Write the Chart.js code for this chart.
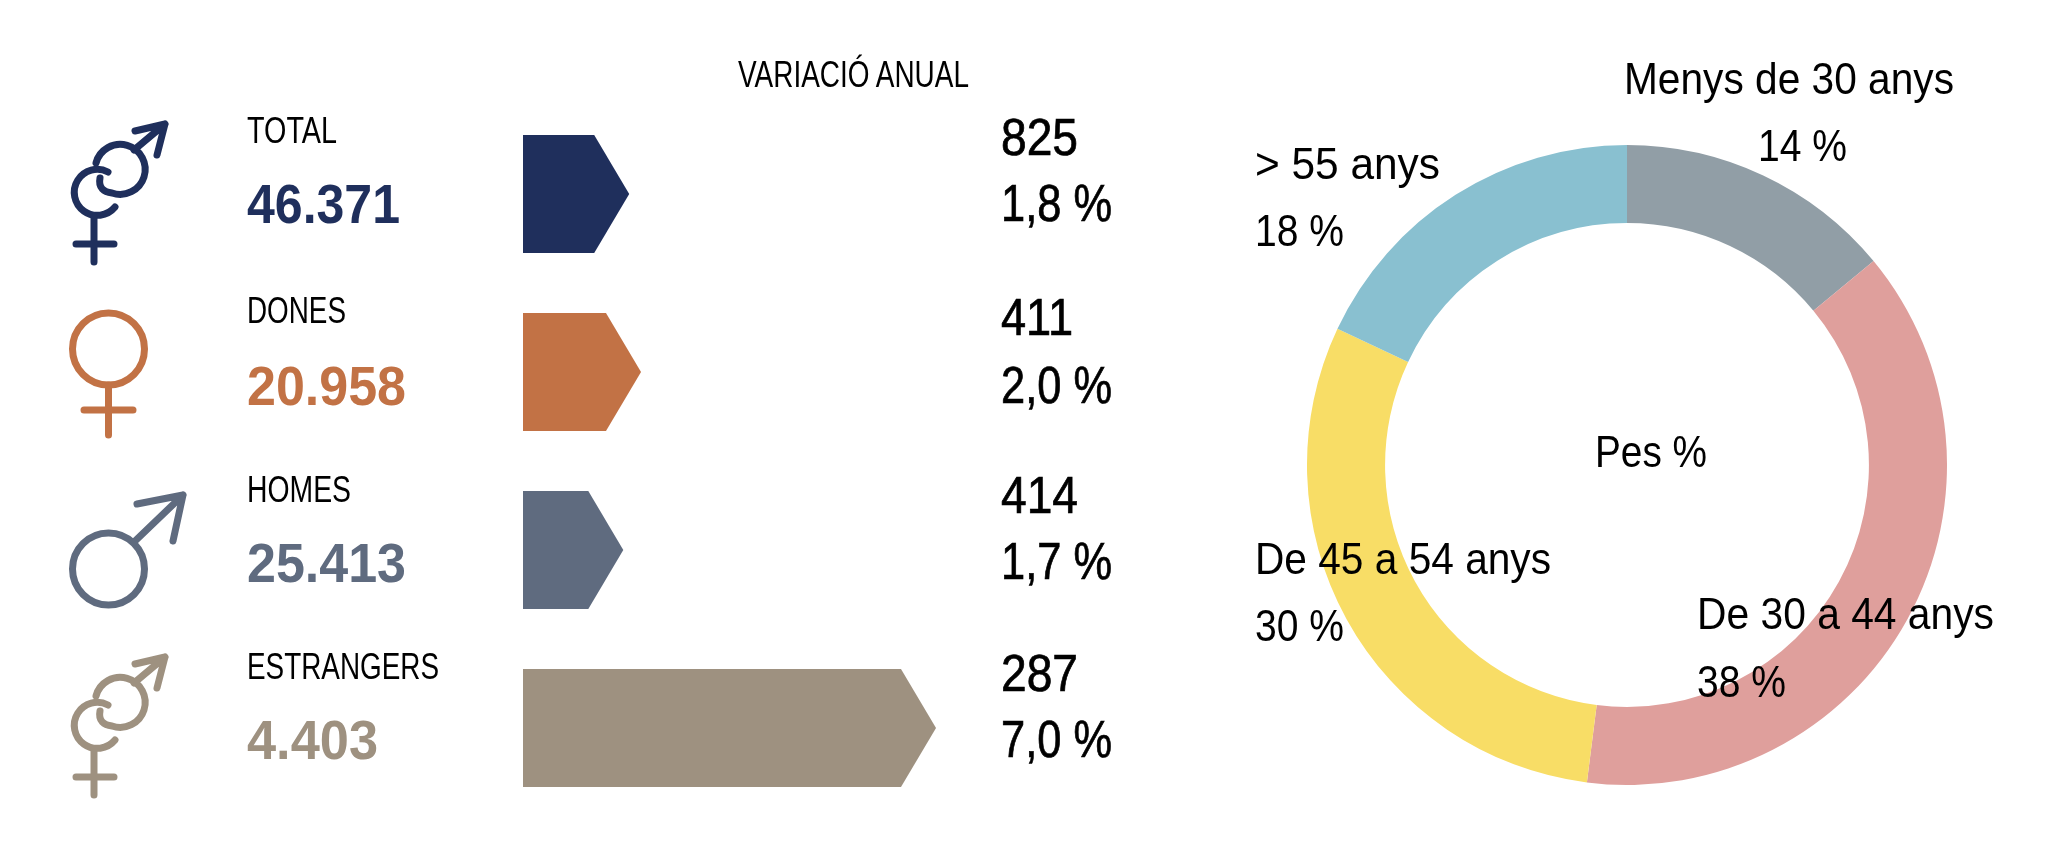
<!DOCTYPE html>
<html lang="ca">
<head>
<meta charset="UTF-8">
<title>Variació anual</title>
<script src="https://cdn.jsdelivr.net/npm/chart.js"></script>
<style>
    html, body { margin: 0; padding: 0; background: #fff; }
    .page { position: relative; width: 2067px; height: 850px; overflow: hidden; }
    #barWrap { position: absolute; left: 523px; top: 105px; width: 413px; height: 712px; }
    #pieWrap { position: absolute; left: 1307px; top: 145px; width: 640px; height: 640px; }
    #overlay { position: absolute; left: 0; top: 0; }
    #overlay text { font-family: "Liberation Sans Narrow", "Liberation Sans", sans-serif; fill: #000; }
    .icon { fill: none; stroke-width: 7; stroke-linecap: round; stroke-linejoin: round; }
</style>
</head>
<body>
<div class="page">
    <div id="barWrap"><canvas id="barChart"></canvas></div>
    <div id="pieWrap"><canvas id="pieChart"></canvas></div>
    <svg id="overlay" width="2067" height="850" xmlns="http://www.w3.org/2000/svg"></svg>
</div>
<script>
// data
const categories = ['TOTAL', 'DONES', 'HOMES', 'ESTRANGERS'];
const totals = ['46.371', '20.958', '25.413', '4.403'];
const changeAbs = ['825', '411', '414', '287'];
const changePct = [1.8, 2.0, 1.7, 7.0];
const ageGroups = ['Menys de 30 anys', 'De 30 a 44 anys', 'De 45 a 54 anys', '> 55 anys'];
const ageShares = [14, 38, 30, 18];

const rowColors = ['#1f2f5c', '#c27245', '#5f6b7f', '#9e9180'];
const ageColors = ['#919ea6', '#df9f9c', '#f8dd66', '#89c0d0'];

Chart.defaults.animation = false;

// bars get an arrow point instead of the plain rectangle
const arrowBars = {
    id: 'arrowBars',
    beforeDatasetDraw(chart, args) {
        const ctx = chart.ctx;
        args.meta.data.forEach(function (bar) {
            const top = bar.y - bar.height / 2;
            const bottom = bar.y + bar.height / 2;
            ctx.save();
            ctx.fillStyle = bar.options.backgroundColor;
            ctx.beginPath();
            ctx.moveTo(bar.base, top);
            ctx.lineTo(bar.x - 35, top);
            ctx.lineTo(bar.x, bar.y);
            ctx.lineTo(bar.x - 35, bottom);
            ctx.lineTo(bar.base, bottom);
            ctx.closePath();
            ctx.fill();
            ctx.restore();
        });
        return false;
    }
};

new Chart(document.getElementById('barChart'), {
    type: 'bar',
    data: {
        labels: categories,
        datasets: [{ data: changePct, backgroundColor: rowColors, barThickness: 118 }]
    },
    options: {
        indexAxis: 'y',
        responsive: true,
        maintainAspectRatio: false,
        events: [],
        scales: {
            x: { display: false, min: 0, max: 7 },
            y: { display: false }
        },
        plugins: { legend: { display: false }, tooltip: { enabled: false } }
    },
    plugins: [arrowBars]
});

new Chart(document.getElementById('pieChart'), {
    type: 'doughnut',
    data: {
        labels: ageGroups,
        datasets: [{ data: ageShares, backgroundColor: ageColors, borderWidth: 0 }]
    },
    options: {
        responsive: true,
        maintainAspectRatio: false,
        cutout: '75.6%',
        events: [],
        plugins: { legend: { display: false }, tooltip: { enabled: false } }
    }
});

// text and icons on top
const svg = document.getElementById('overlay');
const NS = 'http://www.w3.org/2000/svg';

function addText(str, x, y, size, width, opts) {
    opts = opts || {};
    const t = document.createElementNS(NS, 'text');
    t.setAttribute('x', x);
    t.setAttribute('y', y);
    t.setAttribute('font-size', size);
    t.setAttribute('textLength', width);
    t.setAttribute('lengthAdjust', 'spacingAndGlyphs');
    if (opts.bold) t.setAttribute('font-weight', 'bold');
    if (opts.color) t.style.fill = opts.color;
    if (opts.stroke) {
        t.style.stroke = '#000';
        t.style.strokeWidth = opts.stroke;
    }
    t.textContent = str;
    svg.appendChild(t);
}

function pct(v) {
    return v.toFixed(1).replace('.', ',') + ' %';
}

const nameBase = [143, 323, 502, 679];
const nameWidth = [90, 99, 104, 192];
const totalBase = [223, 405, 582, 759];
const totalWidth = [153, 159, 159, 131];
const absBase = [155, 335, 513, 691];
const absWidth = [77, 72, 77, 77];
const pctBase = [221, 403, 579, 757];

addText('VARIACIÓ ANUAL', 738, 87, 36, 231);
categories.forEach(function (name, i) {
    addText(name, 247, nameBase[i], 36, nameWidth[i]);
    addText(totals[i], 247, totalBase[i], 56, totalWidth[i], { bold: true, color: rowColors[i] });
    addText(changeAbs[i], 1001, absBase[i], 51, absWidth[i], { stroke: 0.7 });
    addText(pct(changePct[i]), 1001, pctBase[i], 51, 111, { stroke: 0.7 });
});

const ageLabelX = [1624, 1697, 1255, 1255];
const ageLabelWidth = [330, 297, 296, 185];
const ageNameBase = [94, 629, 574, 179];
const agePctX = [1758, 1697, 1255, 1255];
const agePctBase = [161, 697, 641, 246];
ageGroups.forEach(function (name, i) {
    addText(name, ageLabelX[i], ageNameBase[i], 44, ageLabelWidth[i]);
    addText(ageShares[i] + ' %', agePctX[i], agePctBase[i], 44, 89);
});
addText('Pes %', 1595, 467, 44, 112);

function addIcon(markup, color, dy) {
    const g = document.createElementNS(NS, 'g');
    g.setAttribute('class', 'icon');
    g.setAttribute('stroke', color);
    g.setAttribute('transform', 'translate(0,' + dy + ')');
    g.innerHTML = markup;
    svg.appendChild(g);
}

const bothIcon =
    '<path d="M115 207 A23 23 0 1 1 108 172"/>' +
    '<path d="M100 178 C98 188 104 192 112 193 A25 25 0 1 0 96 163"/>' +
    '<path d="M94 217 V262 M76 244 H114"/>' +
    '<path d="M134 150 L165 124 M135 131 L165 124 L157 155"/>';
addIcon(bothIcon, rowColors[0], 0);
addIcon(bothIcon, rowColors[3], 533);
addIcon('<circle cx="108.5" cy="349" r="36"/><path d="M108.5 385 V435 M84 410 H133"/>', rowColors[1], 0);
addIcon('<circle cx="108.5" cy="569" r="36"/><path d="M134 542 L183 495 M137 504 L183 495 L173 541"/>', rowColors[2], 0);
</script>
</body>
</html>
